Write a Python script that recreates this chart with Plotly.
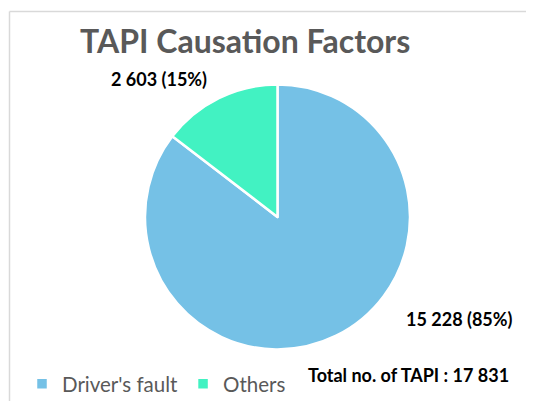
import plotly.graph_objects as go

labels = ["Driver's fault", "Others"]
values = [15228, 2603]
colors = ["#75C1E6", "#42F2C2"]

total = sum(values)


def fmt(n):
    return f"{n:,}".replace(",", " ")


# la page a une marge de 8 px : on la retire des positions
OFF = 8
W, H = 534 - 2 * OFF, 412 - 2 * OFF


def px_(x):
    return (x - OFF) / W


def py_(y):
    return 1 - (y - OFF) / H


fig = go.Figure(go.Pie(
    labels=labels,
    values=values,
    sort=False,
    direction="clockwise",
    rotation=0,
    marker=dict(colors=colors, line=dict(color="white", width=2.5)),
    textinfo="none",
    hoverinfo="label+value+percent",
    domain=dict(x=[px_(144), px_(411)], y=[py_(352), py_(85)]),
))

# étiquettes des parts
pct = [round(v / total * 100) for v in values]
lab_font = dict(size=18, color="#000000", family="Lato")
annots = [
    (159, 80, f"<b>{fmt(values[1])} ({pct[1]}%)</b>"),
    (459, 321, f"<b>{fmt(values[0])} ({pct[0]}%)</b>"),
    (408, 378, f"<b>Total no. of TAPI : {fmt(total)}</b>"),
]
for x, y, txt in annots:
    fig.add_annotation(x=px_(x), y=py_(y), xref="paper", yref="paper",
                       xanchor="center", yanchor="middle",
                       text=txt, showarrow=False, font=lab_font)

# cadre du graphique (bords gauche et haut seulement visibles)
border = dict(color="#D9D9D9", width=1.5)
fig.add_shape(type="line", xref="paper", yref="paper",
              x0=px_(9.5), x1=px_(9.5), y0=0, y1=py_(11.5), line=border)
fig.add_shape(type="line", xref="paper", yref="paper",
              x0=px_(9.5), x1=1, y0=py_(11.5), y1=py_(11.5), line=border)

fig.update_layout(
    width=W, height=H,
    margin=dict(l=0, r=0, t=0, b=0),
    paper_bgcolor="white",
    title=dict(text="<b>TAPI Causation Factors</b>", x=px_(80), xanchor="left",
               y=py_(42), yanchor="middle",
               font=dict(size=32, color="#595959", family="Lato")),
    showlegend=True,
    legend=dict(orientation="h", x=px_(22), y=py_(387), xanchor="left", yanchor="middle",
                font=dict(size=20.5, color="#595959", family="Lato"),
                itemwidth=30, traceorder="normal"),
)

fig.write_html("out.html", post_script="document.body.style.overflow='hidden';")
